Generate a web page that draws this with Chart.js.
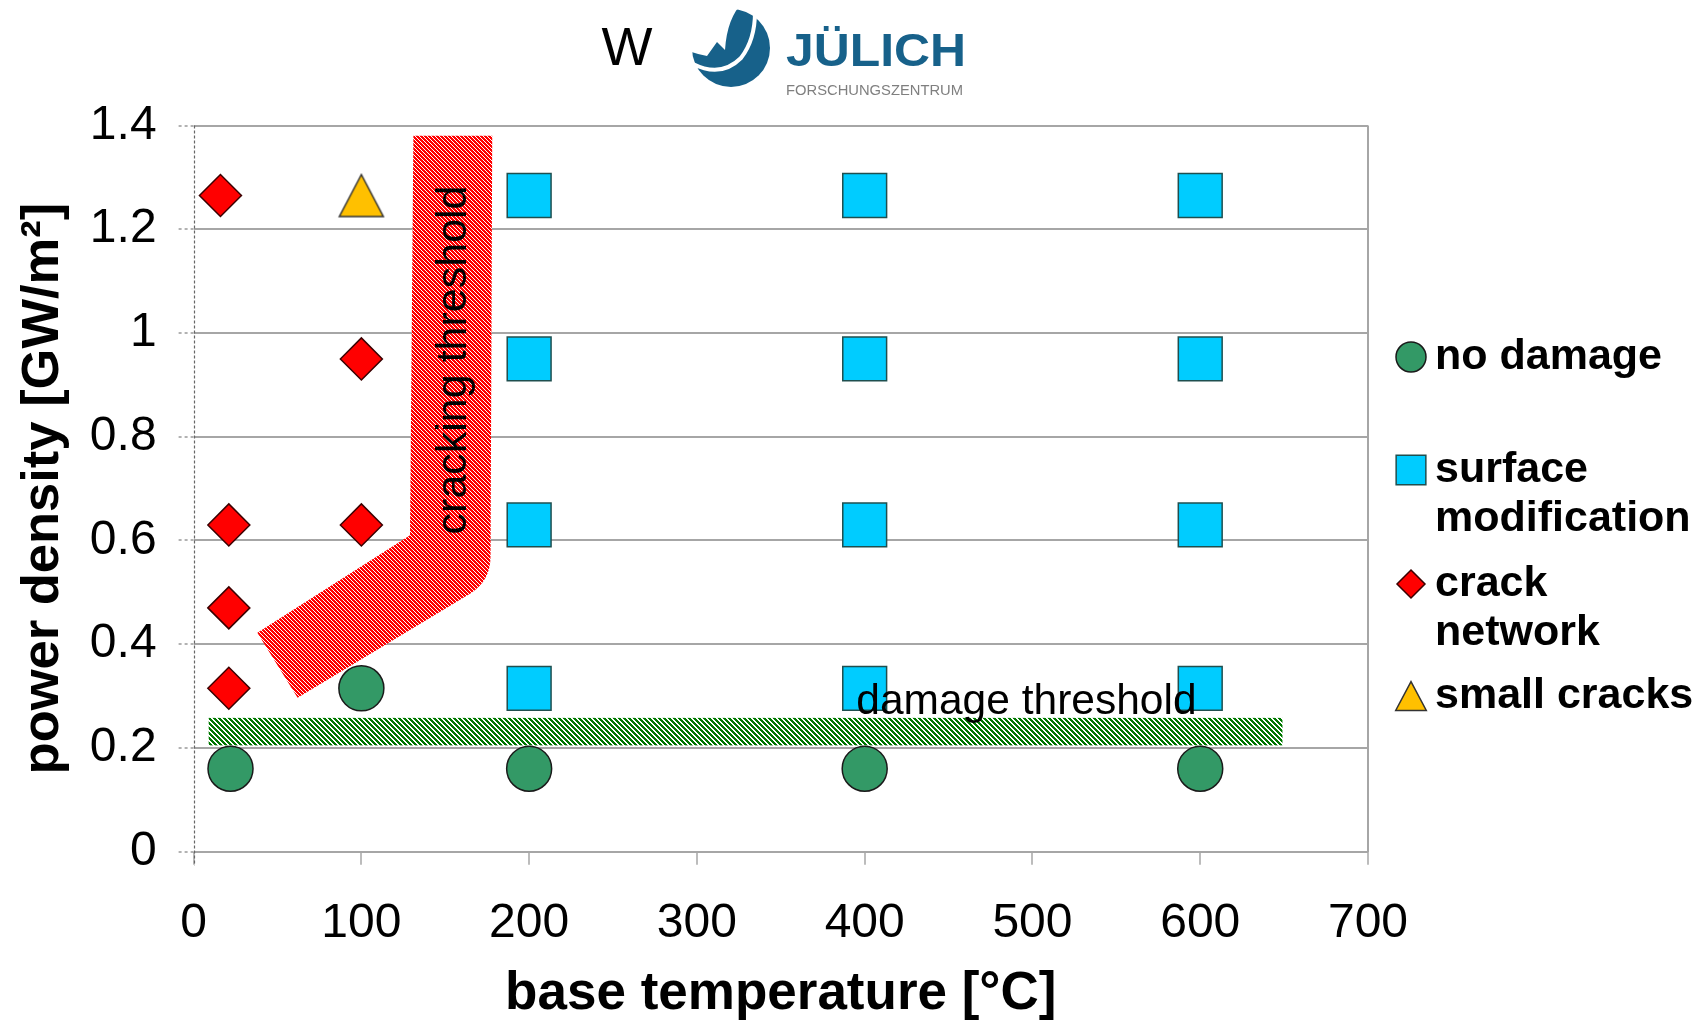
<!DOCTYPE html>
<html>
<head>
<meta charset="utf-8">
<script src="https://cdn.jsdelivr.net/npm/chart.js@4.4.1/dist/chart.umd.min.js"></script>
<style>
    html, body { margin: 0; padding: 0; background: #fff; }
    #chart { display: block; }
</style>
</head>
<body>
<canvas id="chart" width="1696" height="1021"></canvas>
<script>
// Dados (temperatura em °C, densidade em GW/m²)
const seriesNames = [['no damage'], ['surface', 'modification'], ['crack', 'network'], ['small cracks']];

const xTickValues = [0, 100, 200, 300, 400, 500, 600, 700];
const xTickLabels = ['0', '100', '200', '300', '400', '500', '600', '700'];
const yTickValues = [0, 0.2, 0.4, 0.6, 0.8, 1, 1.2, 1.4];
const yTickLabels = ['0', '0.2', '0.4', '0.6', '0.8', '1', '1.2', '1.4'];

const noDamageX = [22, 100, 200, 400, 600];
const noDamageY = [0.16, 0.315, 0.16, 0.16, 0.16];

const surfaceModX = [200, 400, 600, 200, 400, 600, 200, 400, 600, 200, 400, 600];
const surfaceModY = [1.265, 1.265, 1.265, 0.95, 0.95, 0.95, 0.63, 0.63, 0.63, 0.315, 0.315, 0.315];

const crackNetworkX = [16, 100, 21, 100, 21, 21];
const crackNetworkY = [1.265, 0.95, 0.63, 0.63, 0.47, 0.315];

const smallCracksX = [100];
const smallCracksY = [1.265];

// Faixas de limiar (em unidades dos eixos)
const damageBandX = [9, 649];
const damageBandY = [0.205, 0.258];
const crackBandX = [131, 178, 177, 177, 165, 62, 38, 129];
const crackBandY = [1.38, 1.38, 0.57, 0.522, 0.498, 0.297, 0.422, 0.61];

const FONT = "'Liberation Sans', Arial, sans-serif";

const toPoints = (xs, ys) => xs.map((x, i) => ({ x, y: ys[i] }));

// Triângulo centrado na caixa (como no original)
const makeTriangle = (w, h, fill, stroke) => {
    const c = document.createElement('canvas');
    c.width = w + 4;
    c.height = h + 4;
    const g = c.getContext('2d');
    g.beginPath();
    g.moveTo(c.width / 2, 2);
    g.lineTo(w + 2, h + 2);
    g.lineTo(2, h + 2);
    g.closePath();
    g.fillStyle = fill;
    g.fill();
    g.lineWidth = 1.5;
    g.strokeStyle = stroke;
    g.stroke();
    return c;
};

// Estilos das séries
const seriesStyles = [
    { style: 'circle', fill: '#339966', stroke: '#1a1a1a', radius: 22.5, legendRadius: 15 },
    { style: 'rect', fill: '#00ccff', stroke: '#1f4f4f', radius: 31, legendRadius: 21 },
    { style: 'rectRot', fill: '#ff0000', stroke: '#3a0000', radius: 21, legendRadius: 14 },
    { style: 'triangle', fill: '#ffc000', stroke: '#333333', radius: 26, legendRadius: 17 }
];

const seriesData = [
    toPoints(noDamageX, noDamageY),
    toPoints(surfaceModX, surfaceModY),
    toPoints(crackNetworkX, crackNetworkY),
    toPoints(smallCracksX, smallCracksY)
];

// Padrão hachurado (listras diagonais)
const makeHatch = (ctx, color, period, on) => {
    const tile = document.createElement('canvas');
    tile.width = period;
    tile.height = period;
    const t = tile.getContext('2d');
    t.fillStyle = '#ffffff';
    t.fillRect(0, 0, period, period);
    t.fillStyle = color;
    for (let j = 0; j < period; j++) {
        for (let i = 0; i < period; i++) {
            if ((((i - j) % period) + period) % period < on) t.fillRect(i, j, 1, 1);
        }
    }
    return ctx.createPattern(tile, 'repeat');
};

const drawMarker = (ctx, style, x, y, r, fill, stroke) => {
    ctx.beginPath();
    if (style === 'circle') {
        ctx.arc(x, y, r, 0, Math.PI * 2);
    } else if (style === 'rect') {
        const h = r * Math.SQRT1_2;
        ctx.rect(x - h, y - h, 2 * h, 2 * h);
    } else if (style === 'rectRot') {
        ctx.moveTo(x, y - r);
        ctx.lineTo(x + r, y);
        ctx.lineTo(x, y + r);
        ctx.lineTo(x - r, y);
    } else {
        const w = r * 0.9;
        ctx.moveTo(x, y - r * 0.85);
        ctx.lineTo(x + w, y + r * 0.85);
        ctx.lineTo(x - w, y + r * 0.85);
    }
    ctx.closePath();
    ctx.fillStyle = fill;
    ctx.fill();
    ctx.lineWidth = 1.5;
    ctx.strokeStyle = stroke;
    ctx.stroke();
};

// Texto ajustado a uma largura fixa (logotipo)
const fitText = (ctx, text, x, y, width) => {
    const w = ctx.measureText(text).width;
    ctx.save();
    ctx.translate(x, y);
    ctx.scale(width / w, 1);
    ctx.fillText(text, 0, 0);
    ctx.restore();
};

const drawLogo = (ctx) => {
    const cx = 731, cy = 48, r = 39;
    ctx.save();
    ctx.fillStyle = '#17618a';
    ctx.beginPath();
    ctx.arc(cx, cy, r, 0, Math.PI * 2);
    ctx.fill();

    // recorte branco do símbolo
    ctx.fillStyle = '#ffffff';
    ctx.beginPath();
    ctx.moveTo(cx - 46, cy - 46);
    ctx.lineTo(cx + 12, cy - 46);
    ctx.quadraticCurveTo(cx - 4, cy - 30, cx - 6, cy + 2);
    ctx.lineTo(cx - 14, cy - 6);
    ctx.lineTo(cx - 24, cy + 8);
    ctx.quadraticCurveTo(cx - 34, cy + 6, cx - 46, cy + 2);
    ctx.closePath();
    ctx.fill();

    ctx.strokeStyle = '#ffffff';
    ctx.lineWidth = 4;
    ctx.lineJoin = 'round';
    ctx.beginPath();
    ctx.moveTo(cx - 38, cy + 16);
    ctx.quadraticCurveTo(cx - 10, cy + 30, cx + 10, cy + 10);
    ctx.quadraticCurveTo(cx + 24, cy - 8, cx + 24, cy - 36);
    ctx.stroke();

    ctx.fillStyle = '#17618a';
    ctx.font = `bold 46px ${FONT}`;
    ctx.textAlign = 'left';
    ctx.textBaseline = 'alphabetic';
    fitText(ctx, 'JÜLICH', 786, 66, 180);
    ctx.fillStyle = '#7f7f7f';
    ctx.font = `15px ${FONT}`;
    fitText(ctx, 'FORSCHUNGSZENTRUM', 786, 95, 177);
    ctx.restore();
};

const overlayPlugin = {
    id: 'overlay',
    beforeDatasetsDraw(chart) {
        const { ctx, chartArea, scales: { x, y } } = chart;
        const px = v => x.getPixelForValue(v);
        const py = v => y.getPixelForValue(v);
        ctx.save();

        // eixo vertical tracejado
        ctx.strokeStyle = '#666666';
        ctx.lineWidth = 1.2;
        ctx.setLineDash([3, 2]);
        ctx.beginPath();
        ctx.moveTo(Math.round(chartArea.left) + 0.5, chartArea.top);
        ctx.lineTo(Math.round(chartArea.left) + 0.5, chartArea.bottom + 14);
        ctx.stroke();
        ctx.setLineDash([]);

        // faixa verde: damage threshold
        ctx.fillStyle = makeHatch(ctx, '#007800', 5, 3);
        ctx.fillRect(px(damageBandX[0]), py(damageBandY[1]),
            px(damageBandX[1]) - px(damageBandX[0]), py(damageBandY[0]) - py(damageBandY[1]));

        // faixa vermelha: cracking threshold (ponto 3 = controlo da curva)
        ctx.fillStyle = makeHatch(ctx, '#ff0000', 4, 3);
        ctx.beginPath();
        ctx.moveTo(px(crackBandX[0]), py(crackBandY[0]));
        ctx.lineTo(px(crackBandX[1]), py(crackBandY[1]));
        ctx.lineTo(px(crackBandX[2]), py(crackBandY[2]));
        ctx.quadraticCurveTo(px(crackBandX[3]), py(crackBandY[3]), px(crackBandX[4]), py(crackBandY[4]));
        for (let i = 5; i < crackBandX.length; i++) {
            ctx.lineTo(px(crackBandX[i]), py(crackBandY[i]));
        }
        ctx.closePath();
        ctx.fill();
        ctx.restore();
    },
    afterDatasetsDraw(chart) {
        const { ctx, scales: { x, y } } = chart;
        ctx.save();
        ctx.fillStyle = '#000';

        ctx.font = `42.5px ${FONT}`;
        ctx.textAlign = 'left';
        ctx.textBaseline = 'alphabetic';
        ctx.fillText('damage threshold', x.getPixelForValue(395), y.getPixelForValue(0.265));

        ctx.translate(x.getPixelForValue(155), y.getPixelForValue(0.948));
        ctx.rotate(-Math.PI / 2);
        ctx.font = `43px ${FONT}`;
        ctx.textAlign = 'center';
        ctx.textBaseline = 'middle';
        ctx.fillText('cracking threshold', 0, 0);
        ctx.restore();
    },
    afterDraw(chart) {
        const { ctx } = chart;
        ctx.save();

        // "W" e logotipo
        ctx.fillStyle = '#000';
        ctx.font = `54px ${FONT}`;
        ctx.textAlign = 'center';
        ctx.textBaseline = 'alphabetic';
        ctx.fillText('W', 627, 65);
        drawLogo(ctx);

        // Legenda
        const markerX = 1411;
        const textX = 1435;
        const markerY = [357, 470, 584, 696];
        const lineGap = 49;
        ctx.font = `bold 43px ${FONT}`;
        ctx.textAlign = 'left';
        ctx.textBaseline = 'alphabetic';
        seriesNames.forEach((lines, i) => {
            const s = seriesStyles[i];
            drawMarker(ctx, s.style, markerX, markerY[i], s.legendRadius, s.fill, s.stroke);
            ctx.fillStyle = '#000';
            lines.forEach((line, k) => {
                ctx.fillText(line, textX, markerY[i] + 12 + k * lineGap);
            });
        });
        ctx.restore();
    }
};

const datasets = seriesData.map((data, i) => {
    const s = seriesStyles[i];
    const style = s.style === 'triangle' ? makeTriangle(44, 42, s.fill, s.stroke) : s.style;
    return {
        label: seriesNames[i].join(' '),
        data: data,
        pointStyle: style,
        pointRadius: s.radius,
        pointHoverRadius: s.radius,
        pointBackgroundColor: s.fill,
        pointBorderColor: s.stroke,
        pointBorderWidth: 1.5,
        showLine: false,
        clip: false
    };
});

new Chart(document.getElementById('chart'), {
    type: 'scatter',
    data: { datasets },
    options: {
        responsive: false,
        animation: false,
        devicePixelRatio: 1,
        events: [],
        layout: {
            autoPadding: false,
            padding: { left: 0, right: 328, top: 125.5, bottom: 0 }
        },
        plugins: {
            legend: { display: false },
            tooltip: { enabled: false }
        },
        scales: {
            x: {
                type: 'linear',
                min: 0,
                max: 700,
                afterBuildTicks: scale => { scale.ticks = xTickValues.map(v => ({ value: v })); },
                afterFit: scale => { scale.height = 169.3; },
                ticks: {
                    callback: (v, i) => xTickLabels[i],
                    color: '#000',
                    font: { family: FONT, size: 48 },
                    padding: 30,
                    maxRotation: 0,
                    autoSkip: false
                },
                grid: {
                    color: c => (c.tick && c.tick.value === 700 ? '#a6a6a6' : 'rgba(0,0,0,0)'),
                    lineWidth: 2,
                    tickColor: '#a6a6a6',
                    tickLength: 13,
                    tickWidth: 1.5
                },
                border: { display: false },
                title: {
                    display: true,
                    text: 'base temperature [°C]',
                    color: '#000',
                    font: { family: FONT, size: 53, weight: 'bold', lineHeight: 1 },
                    padding: { top: 0, bottom: 0 }
                }
            },
            y: {
                type: 'linear',
                min: 0,
                max: 1.4,
                afterBuildTicks: scale => { scale.ticks = yTickValues.map(v => ({ value: v })); },
                afterFit: scale => { scale.width = 193.6; },
                ticks: {
                    callback: (v, i) => yTickLabels[i],
                    color: '#000',
                    font: { family: FONT, size: 48 },
                    padding: 22
                },
                grid: {
                    color: '#a6a6a6',
                    lineWidth: 2,
                    tickColor: '#999999',
                    tickLength: 15,
                    tickWidth: 1.5,
                    tickBorderDash: [3, 3]
                },
                border: { display: false },
                title: {
                    display: true,
                    text: 'power density [GW/m²]',
                    color: '#000',
                    font: { family: FONT, size: 52.5, weight: 'bold' },
                    padding: { top: 12, bottom: 0 }
                }
            }
        }
    },
    plugins: [overlayPlugin]
});
</script>
</body>
</html>
